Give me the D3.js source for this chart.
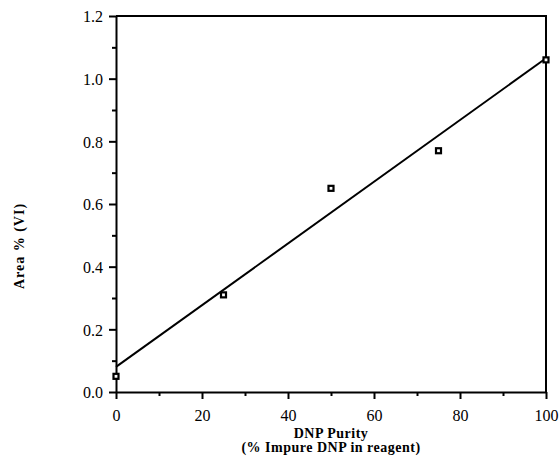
<!DOCTYPE html>
<html>
<head>
<meta charset="utf-8">
<script src="https://cdn.jsdelivr.net/npm/d3@7"></script>
<style>
  html, body { margin: 0; padding: 0; background: #fff; }
  svg { display: block; }
  .tick text { font-family: "Liberation Serif", "Times New Roman", serif; font-size: 16px; fill: #000; }
  .lbl { font-family: "Liberation Serif", "Times New Roman", serif; font-size: 14px; font-weight: bold; fill: #000; }
</style>
</head>
<body>
<svg id="chart" width="560" height="474"></svg>
<script>
// Data
const purity = [0, 25, 50, 75, 100];          // % impure DNP in reagent
const areaVI = [0.05, 0.31, 0.65, 0.77, 1.06]; // Area % (VI)
const fitX = [0, 100];
const fitY = [0.08, 1.065];
const xTicks = [0, 20, 40, 60, 80, 100];
const yTicks = [0.0, 0.2, 0.4, 0.6, 0.8, 1.0, 1.2];
const xMinor = [10, 30, 50, 70, 90];
const yMinor = [0.1, 0.3, 0.5, 0.7, 0.9, 1.1];

const svg = d3.select("#chart");
const L = 116, R = 546, T = 16, B = 392;

const x = d3.scaleLinear().domain([0, 100]).range([L, R]);
const y = d3.scaleLinear().domain([0, 1.2]).range([B, T]);

// frame (top and right)
svg.append("path")
  .attr("d", `M${L},${T}H${R}V${B}`)
  .attr("fill", "none").attr("stroke", "#000").attr("stroke-width", 2);

// minor ticks
const xMinorAxis = d3.axisBottom(x).tickValues(xMinor).tickSize(4).tickFormat("");
svg.append("g").attr("transform", `translate(0,${B})`).call(xMinorAxis)
  .call(g => g.select(".domain").remove())
  .selectAll("line").attr("stroke-width", 2);
const yMinorAxis = d3.axisLeft(y).tickValues(yMinor).tickSize(4).tickFormat("");
svg.append("g").attr("transform", `translate(${L},0)`).call(yMinorAxis)
  .call(g => g.select(".domain").remove())
  .selectAll("line").attr("stroke-width", 2);

// major axes
const xAxis = d3.axisBottom(x).tickValues(xTicks).tickSize(7).tickSizeOuter(0).tickPadding(11).tickFormat(d3.format("d"));
const gx = svg.append("g").attr("transform", `translate(0,${B})`).call(xAxis);
gx.select(".domain").attr("stroke-width", 2);
gx.selectAll(".tick line").attr("stroke-width", 2);

const yAxis = d3.axisLeft(y).tickValues(yTicks).tickSize(7).tickSizeOuter(0).tickPadding(6).tickFormat(d3.format(".1f"));
const gy = svg.append("g").attr("transform", `translate(${L},0)`).call(yAxis);
gy.select(".domain").attr("stroke-width", 2);
gy.selectAll(".tick line").attr("stroke-width", 2);
gy.selectAll(".tick text").attr("dy", "0.36em");

// fit line
const line = d3.line().x(d => x(d[0])).y(d => y(d[1]));
svg.append("path")
  .datum(fitX.map((v, i) => [v, fitY[i]]))
  .attr("d", line)
  .attr("fill", "none").attr("stroke", "#000").attr("stroke-width", 2);

// markers
svg.append("g").selectAll("rect")
  .data(purity.map((v, i) => [v, areaVI[i]]))
  .join("rect")
  .attr("x", d => x(d[0]) - 2.5)
  .attr("y", d => y(d[1]) - 2.5)
  .attr("width", 5).attr("height", 5)
  .attr("fill", "#fff").attr("stroke", "#000").attr("stroke-width", 2.2);

// axis labels
svg.append("text").attr("class", "lbl")
  .attr("x", (L + R) / 2).attr("y", 438)
  .attr("text-anchor", "middle").style("letter-spacing", "0.5px")
  .text("DNP Purity");
svg.append("text").attr("class", "lbl")
  .attr("x", (L + R) / 2).attr("y", 452)
  .attr("text-anchor", "middle").style("letter-spacing", "0.5px")
  .text("(% Impure DNP in reagent)");
svg.append("text").attr("class", "lbl")
  .attr("transform", `translate(24,${(T + B) / 2 + 42}) rotate(-90)`)
  .attr("text-anchor", "middle").style("letter-spacing", "1px")
  .text("Area % (VI)");
</script>
</body>
</html>
